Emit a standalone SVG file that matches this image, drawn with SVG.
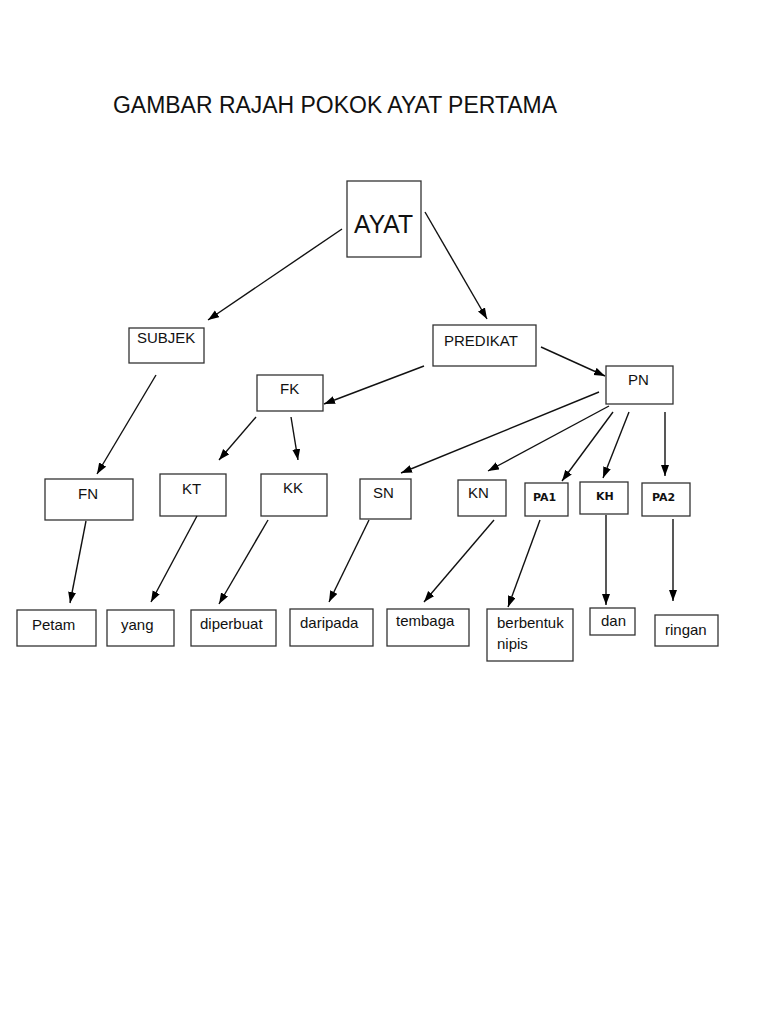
<svg xmlns="http://www.w3.org/2000/svg" width="768" height="1024" viewBox="0 0 768 1024">
<defs>
<marker id="ah" markerUnits="userSpaceOnUse" markerWidth="12" markerHeight="10" refX="11" refY="4" orient="auto">
<path d="M0,0 L11,4 L0,8 Z" fill="#000"/>
</marker>
<style>
.box{fill:#fff;stroke:#333;stroke-width:1.3}
.t{font-family:"Liberation Sans",Arial,sans-serif;font-size:15px;fill:#111}
.b{font-family:"DejaVu Sans",sans-serif;font-size:11px;font-weight:bold;fill:#111}
.c line{stroke:#111;stroke-width:1.4;marker-end:url(#ah)}
</style>
</defs>
<rect width="768" height="1024" fill="#fff"/>
<text x="113" y="113" font-family="Liberation Sans, Arial, sans-serif" font-size="23.5" fill="#111" textLength="444" lengthAdjust="spacingAndGlyphs">GAMBAR RAJAH POKOK AYAT PERTAMA</text>

<g id="ayat"><rect class="box" x="347" y="181" width="74" height="76"/><text x="354" y="233" font-family="Liberation Sans, Arial, sans-serif" font-size="25" fill="#111" textLength="59" lengthAdjust="spacingAndGlyphs">AYAT</text></g>
<g id="subjek"><rect class="box" x="129" y="328" width="75" height="35"/><text class="t" x="137" y="343">SUBJEK</text></g>
<g id="predikat"><rect class="box" x="433" y="325" width="103" height="41"/><text class="t" x="444" y="346">PREDIKAT</text></g>
<g id="fk"><rect class="box" x="257" y="375" width="66" height="36"/><text class="t" x="280" y="394">FK</text></g>
<g id="pn"><rect class="box" x="606" y="366" width="67" height="38"/><text class="t" x="628" y="385">PN</text></g>
<g id="fn"><rect class="box" x="45" y="479" width="88" height="41"/><text class="t" x="78" y="499">FN</text></g>
<g id="kt"><rect class="box" x="160" y="474" width="66" height="42"/><text class="t" x="182" y="494">KT</text></g>
<g id="kk"><rect class="box" x="261" y="474" width="66" height="42"/><text class="t" x="283" y="493">KK</text></g>
<g id="sn"><rect class="box" x="360" y="479" width="51" height="40"/><text class="t" x="373" y="498">SN</text></g>
<g id="kn"><rect class="box" x="458" y="480" width="48" height="36"/><text class="t" x="468" y="498">KN</text></g>
<g id="pa1"><rect class="box" x="525" y="483" width="43" height="33"/><text class="b" x="533" y="501">PA1</text></g>
<g id="kh"><rect class="box" x="580" y="482" width="48" height="32"/><text class="b" x="596" y="500">KH</text></g>
<g id="pa2"><rect class="box" x="642" y="483" width="48" height="33"/><text class="b" x="652" y="501">PA2</text></g>

<g id="petam"><rect class="box" x="17" y="610" width="79" height="36"/><text class="t" x="32" y="630">Petam</text></g>
<g id="yang"><rect class="box" x="107" y="610" width="67" height="36"/><text class="t" x="121" y="630">yang</text></g>
<g id="diperbuat"><rect class="box" x="191" y="610" width="85" height="36"/><text class="t" x="200" y="629">diperbuat</text></g>
<g id="daripada"><rect class="box" x="290" y="609" width="83" height="37"/><text class="t" x="300" y="628">daripada</text></g>
<g id="tembaga"><rect class="box" x="387" y="609" width="82" height="37"/><text class="t" x="396" y="626">tembaga</text></g>
<g id="berbentuk"><rect class="box" x="487" y="609" width="86" height="52"/><text class="t" x="497" y="628">berbentuk</text><text class="t" x="497" y="649">nipis</text></g>
<g id="dan"><rect class="box" x="590" y="608" width="45" height="27"/><text class="t" x="601" y="626">dan</text></g>
<g id="ringan"><rect class="box" x="655" y="615" width="63" height="31"/><text class="t" x="665" y="635">ringan</text></g>

<g id="connectors" class="c">
<line x1="342" y1="229" x2="208" y2="320"/>
<line x1="425" y1="212" x2="487" y2="319"/>
<line x1="156" y1="375" x2="97" y2="474"/>
<line x1="424" y1="366" x2="324" y2="404"/>
<line x1="541" y1="347" x2="605" y2="376"/>
<line x1="256" y1="417" x2="219" y2="460"/>
<line x1="291" y1="417" x2="298" y2="460"/>
<line x1="599" y1="392" x2="401" y2="473"/>
<line x1="609" y1="406" x2="488" y2="471"/>
<line x1="613" y1="412" x2="562" y2="481"/>
<line x1="629" y1="412" x2="603" y2="478"/>
<line x1="665" y1="412" x2="665" y2="476"/>
<line x1="86" y1="521" x2="70" y2="603"/>
<line x1="197" y1="516" x2="151" y2="602"/>
<line x1="268" y1="520" x2="219" y2="604"/>
<line x1="369" y1="520" x2="329" y2="602"/>
<line x1="494" y1="520" x2="424" y2="602"/>
<line x1="540" y1="520" x2="508" y2="607"/>
<line x1="606" y1="515" x2="606" y2="605"/>
<line x1="673" y1="519" x2="673" y2="601"/>
</g>
</svg>
